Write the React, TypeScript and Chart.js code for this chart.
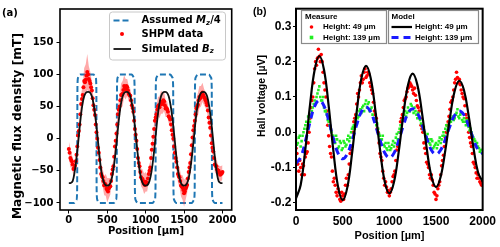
import React, { useEffect, useRef } from "react";
import { Chart, registerables } from "chart.js";

Chart.register(...registerables);

// ---------------- Panel (a) data ----------------
const scanPos = [0,20,40,60,80,100,120,140,160,180,200,220,240,260,280,300,320,340,360,380,400,420,440,460,480,500,520,540,560,580,600,620,640,660,680,700,720,740,760,780,800,820,840,860,880,900,920,940,960,980,1000,1020,1040,1060,1080,1100,1120,1140,1160,1180,1200,1220,1240,1260,1280,1300,1320,1340,1360,1380,1400,1420,1440,1460,1480,1500,1520,1540,1560,1580,1600,1620,1640,1660,1680,1700,1720,1740,1760,1780,1800,1820,1840,1860,1880,1900,1920,1940,1960,1980,2000];
const scanPos2 = [10,30,50,70,90,110,130,150,170,190,210,230,250,270,290,310,330,350,370,390,410,430,450,470,490,510,530,550,570,590,610,630,650,670,690,710,730,750,770,790,810,830,850,870,890,910,930,950,970,990,1010,1030,1050,1070,1090,1110,1130,1150,1170,1190,1210,1230,1250,1270,1290,1310,1330,1350,1370,1390,1410,1430,1450,1470,1490,1510,1530,1550,1570,1590,1610,1630,1650,1670,1690,1710,1730,1750,1770,1790,1810,1830,1850,1870,1890,1910,1930,1950,1970,1990];

const shpmA = [
  -16,-30,-35,-47,-42,-25,5,22,54,68,
  90,92,104,93,86,75,52,37,10,-14,
  -33,-55,-60,-73,-72,-80,-77,-74,-55,-43,
  -12,8,38,50,68,70,82,77,80,70,
  67,52,42,15,-3,-30,-43,-60,-63,-70,
  -67,-69,-55,-45,-17,3,28,38,50,49,
  57,55,58,47,46,35,30,13,0,-22,
  -36,-55,-60,-73,-76,-85,-78,-72,-52,-38,
  -10,13,28,47,53,65,66,72,65,60,
  52,33,17,-7,-20,-40,-43,-52,-53,-55,
  -52];
const shpmA2 = [
  -22,-33,-40,-46,-35,-12,12,38,62,80,
  88,98,100,90,80,63,45,22,0,-22,
  -45,-58,-66,-70,-78,-82,-75,-66,-48,-28,
  -3,22,45,60,68,76,80,82,75,68,
  60,48,28,6,-16,-38,-52,-62,-67,-72,
  -70,-62,-50,-30,-8,15,33,45,52,53,
  54,60,52,48,42,33,22,6,-12,-30,
  -45,-58,-66,-74,-80,-82,-75,-62,-45,-24,
  2,20,38,50,60,63,70,68,63,56,
  44,25,5,-14,-30,-42,-48,-50,-56,-54];

const shpmErrA = [
  12,15,10,12,9,8,10,11,14,16,
  20,24,28,20,18,14,12,11,9,10,
  11,13,14,15,17,19,16,13,12,10,
  9,11,13,15,18,20,17,16,13,12,
  11,10,9,10,9,11,12,14,15,16,
  15,13,12,10,9,9,11,12,15,17,
  18,16,15,13,12,11,9,10,9,11,
  12,13,15,17,19,21,17,13,11,10,
  9,11,13,16,18,17,16,15,13,12,
  11,10,9,11,12,12,13,12,11,12,
  11];

const simPosA = [0,25,50,75,100,125,150,175,200,225,250,275,300,325,350,375,400,425,450,475,500,525,550,575,600,625,650,675,700,725,750,775,800,825,850,875,900,925,950,975,1000,1025,1050,1075,1100,1125,1150,1175,1200,1225,1250,1275,1300,1325,1350,1375,1400,1425,1450,1475,1500,1525,1550,1575,1600,1625,1650,1675,1700,1725,1750,1775,1800,1825,1850,1875,1900,1925,1950,1975,2000];
const simBzA = [
  -69,-69,-66,-52,-30,-2,28,52,66,72,73,72,66,52,30,2,-28,-52,-66,-72,
  -73,-72,-66,-52,-30,-2,28,52,66,72,73,72,66,52,30,2,-28,-52,-66,-72,
  -73,-72,-66,-52,-30,-2,28,52,66,72,73,72,66,52,30,2,-28,-52,-66,-72,
  -73,-72,-66,-52,-30,-2,28,52,66,72,73,72,66,52,30,2,-28,-52,-66,-69,
  -69];

const mzPosA = [0,
  70,100,108,112,120,150, 320,350,358,362,370,400,
  585,615,623,627,635,665, 818,848,856,860,868,898,
  1090,1120,1128,1132,1140,1170, 1320,1350,1358,1362,1370,1400,
  1600,1630,1638,1642,1650,1680, 1822,1852,1860,1864,1872,1902,
  2000];
const mzA = [-100,
  -100,-95,-80,80,95,100, 100,95,80,-80,-95,-100,
  -100,-95,-80,80,95,100, 100,95,80,-80,-95,-100,
  -100,-95,-80,80,95,100, 100,95,80,-80,-95,-100,
  -100,-95,-80,80,95,100, 100,95,80,-80,-95,-100,
  -100];

const xTicksA = [0,500,1000,1500,2000];
const yTicksA = [-100,-50,0,50,100,150];
const yTickLabelsA = ["\u2212100","\u221250","0","50","100","150"];

// ---------------- Panel (b) data ----------------
const meas49B = [
  -0.045,-0.09,-0.08,-0.12,-0.095,-0.07,-0.055,0.0,0.07,0.1,
  0.18,0.19,0.235,0.2,0.2,0.14,0.1,0.02,-0.04,-0.07,
  -0.14,-0.15,-0.18,-0.17,-0.195,-0.18,-0.175,-0.13,-0.12,-0.06,
  -0.04,0.03,0.05,0.11,0.12,0.16,0.15,0.18,0.16,0.165,
  0.13,0.11,0.06,0.04,0.0,-0.06,-0.08,-0.13,-0.14,-0.17,
  -0.18,-0.16,-0.125,-0.11,-0.05,-0.03,0.03,0.05,0.09,0.1,
  0.125,0.14,0.13,0.11,0.105,0.075,0.06,0.02,0.0,-0.045,
  -0.085,-0.1,-0.13,-0.135,-0.17,-0.19,-0.16,-0.14,-0.095,-0.065,
  -0.015,0.02,0.045,0.085,0.1,0.14,0.17,0.14,0.135,0.11,
  0.095,0.05,0.025,-0.015,-0.04,-0.085,-0.1,-0.13,-0.13,-0.145,
  -0.14];
const meas49B2 = [
  -0.06,-0.11,-0.1,-0.09,-0.12,-0.06,-0.03,0.04,0.09,0.14,
  0.2,0.21,0.215,0.22,0.17,0.12,0.06,-0.01,-0.06,-0.11,
  -0.13,-0.17,-0.16,-0.19,-0.17,-0.19,-0.15,-0.15,-0.09,-0.05,
  0.0,0.04,0.08,0.1,0.14,0.14,0.17,0.155,0.17,0.14,
  0.12,0.085,0.05,0.01,-0.03,-0.07,-0.11,-0.15,-0.155,-0.165,
  -0.17,-0.14,-0.12,-0.08,-0.04,0.0,0.04,0.07,0.095,0.115,
  0.13,0.135,0.12,0.125,0.09,0.07,0.04,0.01,-0.03,-0.06,
  -0.09,-0.12,-0.12,-0.15,-0.175,-0.18,-0.15,-0.12,-0.08,-0.04,
  0.0,0.03,0.065,0.09,0.12,0.15,0.155,0.15,0.12,0.1,
  0.075,0.04,0.0,-0.03,-0.06,-0.09,-0.115,-0.12,-0.14,-0.15];

const meas139B = [
  -0.02,-0.03,-0.01,-0.025,0.0,0.02,0.01,0.04,0.05,0.07,
  0.09,0.1,0.12,0.1,0.09,0.07,0.06,0.035,0.02,0.0,
  -0.01,-0.03,-0.02,-0.04,-0.03,-0.045,-0.03,-0.035,-0.01,-0.015,
  0.01,0.02,0.035,0.04,0.06,0.055,0.075,0.08,0.07,0.085,
  0.065,0.05,0.04,0.02,0.01,-0.01,-0.02,-0.035,-0.03,-0.05,
  -0.04,-0.045,-0.025,-0.03,-0.005,0.0,0.02,0.035,0.05,0.045,
  0.07,0.06,0.075,0.055,0.06,0.04,0.045,0.025,0.01,0.0,
  -0.015,-0.02,-0.035,-0.025,-0.04,-0.03,-0.035,-0.015,-0.02,0.0,
  0.01,0.005,0.025,0.03,0.045,0.04,0.055,0.045,0.05,0.035,
  0.04,0.02,0.025,0.005,0.0,-0.015,-0.025,-0.03,-0.045,-0.05,
  -0.06];
const meas139B2 = [
  -0.035,-0.015,-0.04,-0.01,0.01,0.03,0.045,0.03,0.06,0.08,
  0.08,0.11,0.13,0.09,0.1,0.06,0.05,0.03,0.01,-0.01,
  -0.02,-0.01,-0.045,-0.025,-0.05,-0.025,-0.04,-0.02,-0.025,0.0,
  0.015,0.01,0.05,0.045,0.065,0.07,0.06,0.09,0.08,0.06,
  0.07,0.04,0.03,0.025,-0.005,-0.02,-0.01,-0.04,-0.045,-0.03,
  -0.05,-0.035,-0.04,-0.015,-0.02,0.01,0.01,0.04,0.06,0.055,
  0.06,0.08,0.065,0.07,0.05,0.055,0.035,0.02,0.015,-0.01,
  -0.005,-0.03,-0.02,-0.045,-0.035,-0.045,-0.025,-0.03,-0.01,-0.01,
  0.02,0.015,0.035,0.04,0.035,0.05,0.065,0.04,0.055,0.03,
  0.03,0.035,0.015,0.01,-0.01,-0.02,-0.035,-0.04,-0.055,-0.05];

const modelPosB = [0,50,100,150,200,250,300,350,400,450,500,550,600,650,700,750,800,850,900,950,1000,1050,1100,1150,1200,1250,1300,1350,1400,1450,1500,1550,1600,1650,1700,1750,1800,1850,1900,1950,2000];
const model49B = [
  -0.187,-0.149,-0.048,0.077,0.177,0.216,
  0.177,0.075,-0.051,-0.153,-0.192,
  -0.156,-0.061,0.057,0.152,0.188,
  0.154,0.063,-0.048,-0.139,-0.173,
  -0.141,-0.056,0.049,0.134,0.166,
  0.135,0.055,-0.044,-0.124,-0.155,
  -0.126,-0.051,0.042,0.117,0.146,
  0.119,0.047,-0.041,-0.113,-0.14];
const model139B = [
  -0.088,-0.071,-0.026,0.029,0.074,0.091,
  0.075,0.034,-0.018,-0.059,-0.075,
  -0.061,-0.024,0.021,0.058,0.072,
  0.058,0.022,-0.022,-0.058,-0.072,
  -0.059,-0.024,0.019,0.054,0.067,
  0.055,0.022,-0.017,-0.05,-0.062,
  -0.05,-0.02,0.018,0.048,0.06,
  0.049,0.019,-0.019,-0.049,-0.06];

const xTicksB = [0,500,1000,1500,2000];
const yTicksB = [-0.2,-0.1,0,0.1,0.2,0.3];
const yTickLabelsB = ["-0.2","-0.1","0.0","0.1","0.2","0.3"];

// ---------------- helpers ----------------
const FA = "'DejaVu Sans'";
const FB = "'Liberation Sans', Arial";
const pts = (xs: number[], ys: number[]) => xs.map((x, i) => ({ x, y: ys[i] }));

const framePlugin = (lw: number) => ({
  id: "frame",
  afterDatasetsDraw(chart: any) {
    const { ctx, chartArea: a } = chart;
    ctx.save();
    ctx.strokeStyle = "#000";
    ctx.lineWidth = lw;
    ctx.strokeRect(a.left, a.top, a.right - a.left, a.bottom - a.top);
    ctx.restore();
  },
});

function rich(ctx: CanvasRenderingContext2D, parts: { t: string; f: string; dy?: number }[], x: number, y: number) {
  for (const p of parts) {
    ctx.font = p.f;
    ctx.fillText(p.t, x, y + (p.dy || 0));
    x += ctx.measureText(p.t).width;
  }
}

const decorA = {
  id: "decorA",
  afterDraw(chart: any) {
    const ctx: CanvasRenderingContext2D = chart.ctx;
    ctx.save();
    ctx.fillStyle = "#000";
    ctx.textBaseline = "middle";
    ctx.font = `bold 10px ${FA}`;
    ctx.textAlign = "left";
    ctx.fillText("(a)", 2, 13);
    ctx.textAlign = "center";
    ctx.font = `bold 10px ${FA}`;
    ctx.fillText("Position [\u00b5m]", 146, 231);
    ctx.save();
    ctx.translate(18, 126);
    ctx.rotate(-Math.PI / 2);
    ctx.font = `bold 12.3px ${FA}`;
    ctx.fillText("Magnetic flux density [mT]", 0, 0);
    ctx.restore();
    // legend box
    const bx = 109.5, by = 12, bw = 116, bh = 48, r = 3;
    ctx.beginPath();
    ctx.moveTo(bx + r, by);
    ctx.arcTo(bx + bw, by, bx + bw, by + bh, r);
    ctx.arcTo(bx + bw, by + bh, bx, by + bh, r);
    ctx.arcTo(bx, by + bh, bx, by, r);
    ctx.arcTo(bx, by, bx + bw, by, r);
    ctx.closePath();
    ctx.fillStyle = "rgba(255,255,255,0.85)";
    ctx.fill();
    ctx.strokeStyle = "#c8c8c8";
    ctx.lineWidth = 1;
    ctx.stroke();
    ctx.lineWidth = 2;
    ctx.strokeStyle = "#1f77b4";
    ctx.setLineDash([6, 3]);
    ctx.beginPath(); ctx.moveTo(113.5, 20.5); ctx.lineTo(131, 20.5); ctx.stroke();
    ctx.setLineDash([]);
    ctx.fillStyle = "#ff0000";
    ctx.beginPath(); ctx.arc(122, 34, 2, 0, Math.PI * 2); ctx.fill();
    ctx.strokeStyle = "#111";
    ctx.lineWidth = 1.8;
    ctx.beginPath(); ctx.moveTo(113.5, 49); ctx.lineTo(131, 49); ctx.stroke();
    ctx.fillStyle = "#000";
    ctx.textAlign = "left";
    const b = `bold 10px ${FA}`, bi = `italic bold 10px ${FA}`, sub = `italic bold 7px ${FA}`;
    rich(ctx, [{ t: "Assumed ", f: b }, { t: "M", f: bi }, { t: "z", f: sub, dy: 2.5 }, { t: "/4", f: b }], 141.5, 20.5);
    rich(ctx, [{ t: "SHPM data", f: b }], 141.5, 34);
    rich(ctx, [{ t: "Simulated ", f: b }, { t: "B", f: bi }, { t: "z", f: sub, dy: 2.5 }], 141.5, 49);
    ctx.restore();
  },
};

const decorB = {
  id: "decorB",
  afterDraw(chart: any) {
    const ctx: CanvasRenderingContext2D = chart.ctx;
    ctx.save();
    ctx.fillStyle = "#000";
    ctx.textBaseline = "middle";
    ctx.textAlign = "left";
    ctx.font = `bold 10.5px ${FB}`;
    ctx.fillText("(b)", 3, 12);
    ctx.textAlign = "center";
    ctx.font = `bold 11px ${FB}`;
    ctx.fillText("Position [\u00b5m]", 139.5, 235.5);
    ctx.save();
    ctx.translate(12, 96);
    ctx.rotate(-Math.PI / 2);
    ctx.font = `bold 10.5px ${FB}`;
    ctx.fillText("Hall voltage [\u00b5V]", 0, 0);
    ctx.restore();
    ctx.fillStyle = "#fff";
    ctx.strokeStyle = "#8a8a8a";
    ctx.lineWidth = 1.2;
    ctx.fillRect(51.5, 10.5, 85, 33); ctx.strokeRect(51.5, 10.5, 85, 33);
    ctx.fillRect(138.5, 10.5, 90, 33); ctx.strokeRect(138.5, 10.5, 90, 33);
    ctx.font = `bold 8px ${FB}`;
    ctx.fillStyle = "#000";
    ctx.textAlign = "left";
    ctx.fillText("Measure", 55, 16.5);
    ctx.fillText("Model", 141.5, 16.5);
    ctx.fillText("Height: 49 \u00b5m", 73, 27);
    ctx.fillText("Height: 139 \u00b5m", 73, 37.5);
    ctx.fillText("Height: 49 \u00b5m", 165, 27);
    ctx.fillText("Height: 139 \u00b5m", 165, 37.5);
    ctx.fillStyle = "#ff0000";
    ctx.beginPath(); ctx.arc(61.5, 27, 1.8, 0, Math.PI * 2); ctx.fill();
    ctx.fillStyle = "#22ee22";
    ctx.fillRect(59.7, 35.7, 3.6, 3.6);
    ctx.strokeStyle = "#000";
    ctx.lineWidth = 2.2;
    ctx.beginPath(); ctx.moveTo(141.5, 27); ctx.lineTo(162, 27); ctx.stroke();
    ctx.strokeStyle = "#1a1aff";
    ctx.lineWidth = 3;
    ctx.setLineDash([7, 5]);
    ctx.beginPath(); ctx.moveTo(141.5, 37.5); ctx.lineTo(162, 37.5); ctx.stroke();
    ctx.restore();
  },
};

function makeConfigA(): any {
  const tickFont = { family: "DejaVu Sans", size: 10, weight: "bold" as const };
  const red = { showLine: false, pointRadius: 2, pointBackgroundColor: "#ff0000", pointBorderColor: "#ff0000", pointBorderWidth: 0, order: 1 };
  return {
    type: "line",
    data: {
      datasets: [
        { data: pts(simPosA, simBzA), borderColor: "#111", borderWidth: 1.8, pointRadius: 0, tension: 0.35, order: 0 },
        { data: pts(scanPos, shpmA), ...red },
        { data: pts(scanPos2, shpmA2), ...red },
        { data: pts(scanPos, shpmA.map((v, i) => v + shpmErrA[i])), borderWidth: 0, borderColor: "transparent", pointRadius: 0, fill: 4, backgroundColor: "rgba(255,50,50,0.42)", order: 2 },
        { data: pts(scanPos, shpmA.map((v, i) => v - shpmErrA[i])), borderWidth: 0, borderColor: "transparent", pointRadius: 0, fill: false, order: 3 },
        { data: pts(mzPosA, mzA), borderColor: "#1f77b4", borderWidth: 2, borderDash: [6, 3], pointRadius: 0, cubicInterpolationMode: "monotone", order: 4 },
      ],
    },
    options: {
      responsive: false,
      animation: false,
      devicePixelRatio: 1,
      layout: { padding: { left: 0, right: 18.3, top: 6, bottom: 0 } },
      plugins: { legend: { display: false }, tooltip: { enabled: false } },
      scales: {
        x: {
          type: "linear", min: -115, max: 2120,
          afterBuildTicks: (s: any) => { s.ticks = xTicksA.map((v) => ({ value: v })); },
          afterFit: (s: any) => { s.height = 37; },
          ticks: { color: "#000", font: tickFont, padding: 1, maxRotation: 0, autoSkip: false, callback: (v: any) => String(v) },
          grid: { drawOnChartArea: false, drawTicks: true, tickLength: 3.5, color: "#000", lineWidth: 1 },
          border: { display: false },
        },
        y: {
          type: "linear", min: -111, max: 202,
          afterBuildTicks: (s: any) => { s.ticks = yTicksA.map((v) => ({ value: v })); },
          afterFit: (s: any) => { s.width = 60; },
          ticks: { color: "#000", font: tickFont, padding: 3, autoSkip: false, callback: (_v: any, i: number) => yTickLabelsA[i] },
          grid: { drawOnChartArea: false, drawTicks: true, tickLength: 3.5, color: "#000", lineWidth: 1 },
          border: { display: false },
        },
      },
    },
    plugins: [framePlugin(1.6), decorA],
  };
}

function makeConfigB(): any {
  const tickFont = { family: "Liberation Sans", size: 12, weight: "bold" as const };
  const green = { showLine: false, pointStyle: "rect", pointRadius: 1.8, pointBackgroundColor: "#22ee22", pointBorderColor: "#22ee22", pointBorderWidth: 0, order: 2 };
  const red = { showLine: false, pointRadius: 1.8, pointBackgroundColor: "#ff0000", pointBorderColor: "#ff0000", pointBorderWidth: 0, order: 3 };
  return {
    type: "line",
    data: {
      datasets: [
        { data: pts(modelPosB, model49B), borderColor: "#000", borderWidth: 2.2, pointRadius: 0, tension: 0.4, order: 0 },
        { data: pts(modelPosB, model139B), borderColor: "#1a1aff", borderWidth: 3, borderDash: [7, 5], pointRadius: 0, tension: 0.4, order: 1 },
        { data: pts(scanPos, meas139B), ...green },
        { data: pts(scanPos2, meas139B2), ...green },
        { data: pts(scanPos, meas49B), ...red },
        { data: pts(scanPos2, meas49B2), ...red },
      ],
    },
    options: {
      responsive: false,
      animation: false,
      devicePixelRatio: 1,
      layout: { padding: { left: 0, right: 16.7, top: 7.3, bottom: 0 } },
      plugins: { legend: { display: false }, tooltip: { enabled: false } },
      scales: {
        x: {
          type: "linear", min: 0, max: 2000,
          afterBuildTicks: (s: any) => { s.ticks = xTicksB.map((v) => ({ value: v })); },
          afterFit: (s: any) => { s.height = 37; },
          ticks: { color: "#000", font: tickFont, padding: 4, maxRotation: 0, autoSkip: false, callback: (v: any) => String(v) },
          grid: { drawOnChartArea: false, drawTicks: false, color: "#000" },
          border: { display: false },
        },
        y: {
          type: "linear", min: -0.22, max: 0.35,
          afterBuildTicks: (s: any) => { s.ticks = yTicksB.map((v) => ({ value: v })); },
          afterFit: (s: any) => { s.width = 46; },
          ticks: { color: "#000", font: tickFont, padding: 1.5, autoSkip: false, callback: (_v: any, i: number) => yTickLabelsB[i] },
          grid: { drawOnChartArea: false, drawTicks: true, tickLength: 3, color: "#000", lineWidth: 1 },
          border: { display: false },
        },
      },
    },
    plugins: [framePlugin(2), decorB],
  };
}

export default function App() {
  const refA = useRef<HTMLCanvasElement>(null);
  const refB = useRef<HTMLCanvasElement>(null);
  useEffect(() => {
    document.body.style.margin = "0";
    const a = new Chart(refA.current as HTMLCanvasElement, makeConfigA());
    const b = new Chart(refB.current as HTMLCanvasElement, makeConfigB());
    return () => { a.destroy(); b.destroy(); };
  }, []);
  return (
    <div style={{ position: "relative", width: 500, height: 247, background: "#fff" }}>
      <canvas ref={refA} width={250} height={247} style={{ position: "absolute", left: 0, top: 0, width: 250, height: 247 }} />
      <canvas ref={refB} width={250} height={247} style={{ position: "absolute", left: 250, top: 0, width: 250, height: 247 }} />
    </div>
  );
}
